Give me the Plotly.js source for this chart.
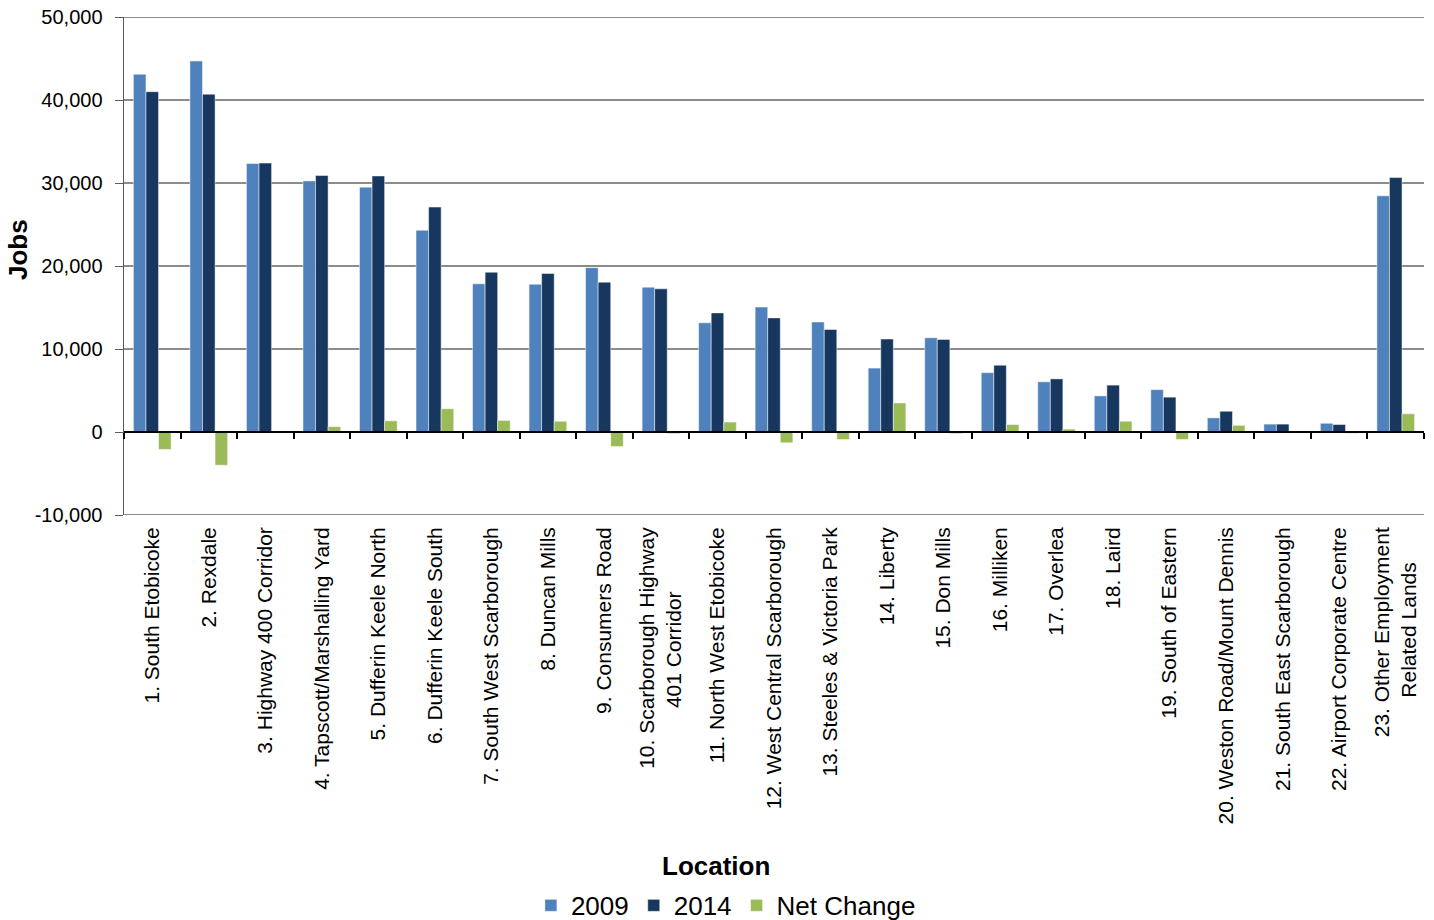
<!DOCTYPE html>
<html>
<head>
<meta charset="utf-8">
<script src="https://cdn.plot.ly/plotly-3.0.1.min.js"></script>
<style>html,body{margin:0;padding:0;background:#fff;}#chart{width:1434px;height:920px;}</style>
</head>
<body>
<div id="chart"></div>
<script>
const categories = [
  "1. South Etobicoke", "2. Rexdale", "3. Highway 400 Corridor", "4. Tapscott/Marshalling Yard",
  "5. Dufferin Keele North", "6. Dufferin Keele South", "7. South West Scarborough", "8. Duncan Mills",
  "9. Consumers Road", "10. Scarborough Highway<br>401 Corridor", "11. North West Etobicoke",
  "12. West Central Scarborough", "13. Steeles & Victoria Park", "14. Liberty", "15. Don Mills",
  "16. Milliken", "17. Overlea", "18. Laird", "19. South of Eastern", "20. Weston Road/Mount Dennis",
  "21. South East Scarborough", "22. Airport Corporate Centre", "23. Other Employment<br>Related Lands"
];
const jobs2009 = [43100, 44700, 32350, 30250, 29500, 24300, 17850, 17800, 19800, 17450, 13150, 15050,
  13250, 7700, 11350, 7150, 6050, 4350, 5100, 1700, 950, 1050, 28450];
const jobs2014 = [41000, 40700, 32400, 30900, 30850, 27100, 19250, 19100, 18050, 17250, 14350, 13750,
  12350, 11200, 11150, 8050, 6400, 5650, 4200, 2500, 950, 900, 30650];
const netChange = [-2100, -4000, 50, 650, 1350, 2800, 1400, 1300, -1750, -200, 1200, -1300,
  -900, 3500, -200, 900, 350, 1300, -900, 800, 0, -150, 2200];
const yTickVals = [-10000, 0, 10000, 20000, 30000, 40000, 50000];
const yTickText = ["-10,000", "0", "10,000", "20,000", "30,000", "40,000", "50,000"];

const FONT = "Liberation Sans, Arial, sans-serif";
const LABEL_SIZE = 21;
const GRID = "#8c8c8c";

// Centre multi-line rotated tick labels (Plotly anchors each line at its end)
function centreLines(label) {
  const lines = label.split("<br>");
  if (lines.length < 2) return label;
  const ctx = document.createElement("canvas").getContext("2d");
  ctx.font = LABEL_SIZE + 'px "Liberation Sans", Arial, sans-serif';
  const widths = lines.map(l => ctx.measureText(l).width);
  const maxW = Math.max(...widths);
  const sp = ctx.measureText("\u00A0").width || 5.8;
  return lines.map((l, i) => l + "\u00A0".repeat(Math.round((maxW - widths[i]) / 2 / sp))).join("<br>");
}
const tickLabels = categories.map(centreLines);

const edge = {color: "rgba(255,255,255,0.6)", width: 0.8};
const traces = [
  {type: "bar", name: "2009", x: categories, y: jobs2009, marker: {color: "#4F81BD", line: edge}},
  {type: "bar", name: "2014", x: categories, y: jobs2014, marker: {color: "#17375E", line: edge}},
  {type: "bar", name: "Net Change", x: categories, y: netChange, marker: {color: "#9BBB59", line: edge}},
  {type: "scatter", mode: "markers", x: categories, y: categories.map(() => 0), xaxis: "x2", yaxis: "y",
   marker: {opacity: 0, size: 1}, showlegend: false, hoverinfo: "skip"}
];

// Gridlines at the two range ends (Plotly clips those)
const yMin = yTickVals[0], yMax = yTickVals[yTickVals.length - 1];
const edgeGrid = [yMin, yMax].map(v => ({
  type: "line", xref: "paper", yref: "y", x0: 0, x1: 1, y0: v, y1: v, layer: "below",
  line: {color: GRID, width: 2}
}));

const layout = {
  width: 1434, height: 920,
  margin: {l: 124, r: 10, t: 17, b: 405, pad: 0, autoexpand: false},
  paper_bgcolor: "#fff", plot_bgcolor: "#fff",
  font: {family: FONT, size: 20, color: "#000"},
  barmode: "group", bargap: 0.333, bargroupgap: 0,
  showlegend: true,
  legend: {orientation: "h", x: 0.463, xanchor: "center", y: -0.784, yanchor: "middle",
    font: {family: FONT, size: 26, color: "#000"}, itemwidth: 30, traceorder: "normal"},
  xaxis: {
    type: "category", range: [-0.5, categories.length - 0.5],
    tickvals: categories, ticktext: tickLabels,
    tickangle: -90, showgrid: false, zeroline: false, showline: false,
    ticks: "", ticklabelstandoff: 7, tickfont: {family: FONT, size: LABEL_SIZE, color: "#000"}, automargin: false
  },
  xaxis2: {
    type: "category", overlaying: "x", anchor: "free", position: 1/6,
    range: [-0.5, categories.length - 0.5],
    showticklabels: false, ticks: "outside", tickson: "boundaries", ticklen: 6, tickwidth: 2,
    tickcolor: "#000", showline: true, linecolor: "#000", linewidth: 2, showgrid: false, zeroline: false
  },
  yaxis: {
    range: [yMin, yMax], tickvals: yTickVals, ticktext: yTickText,
    showgrid: true, gridcolor: GRID, gridwidth: 2, zeroline: false,
    showline: true, linecolor: "#5a5a5a", linewidth: 1.5, ticks: "outside", ticklen: 8, tickcolor: "#5a5a5a",
    ticklabelstandoff: 8,
    tickfont: {family: FONT, size: 20, color: "#000"}, automargin: false
  },
  shapes: edgeGrid,
  annotations: [
    {text: "<b>Jobs</b>", xref: "paper", yref: "paper", x: (18 - 124) / 1300, y: (515 - 250) / 498,
     xanchor: "center", yanchor: "middle", textangle: -90, showarrow: false,
     font: {family: FONT, size: 26, color: "#000"}},
    {text: "<b>Location</b>", xref: "paper", yref: "paper", x: (715.5 - 124) / 1300, y: (515 - 866) / 498,
     xanchor: "center", yanchor: "middle", showarrow: false,
     font: {family: FONT, size: 26, color: "#000"}}
  ]
};

Plotly.newPlot("chart", traces, layout, {displayModeBar: false, staticPlot: true});
</script>
</body>
</html>
